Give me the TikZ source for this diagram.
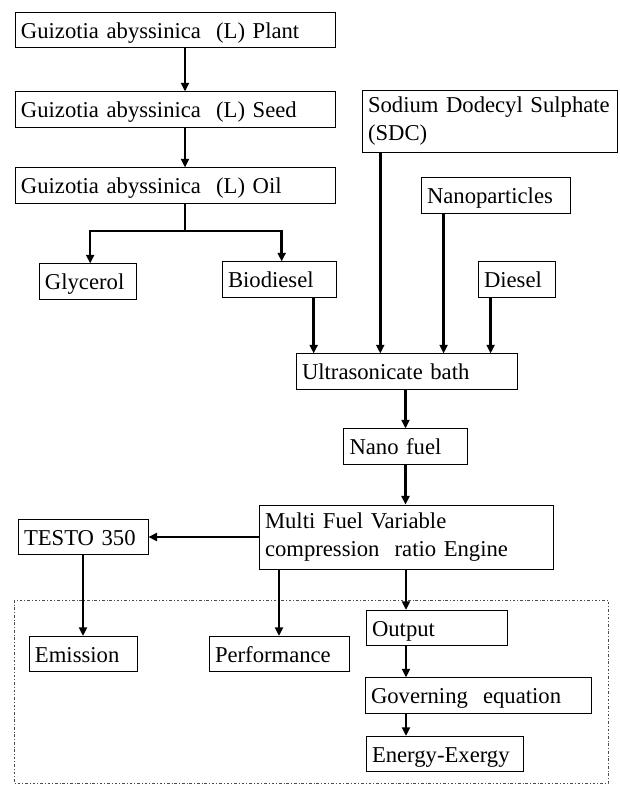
\documentclass[tikz,border=0pt]{standalone}
\usepackage{fontspec}
\setmainfont{Liberation Serif}
\usetikzlibrary{arrows.meta}

\tikzset{every picture/.style={line width=0.75pt}}
\tikzset{
  box/.style={draw, line width=0.6pt, align=left, inner xsep=4.5pt, inner ysep=1pt,
    minimum height=26.5pt, text height=12pt, text depth=0pt, font=\fontsize{17}{20}\selectfont},
  twoline/.style={text height={}, text depth={}, font=\fontsize{17}{21}\selectfont},
  arr/.style={line width=1.9pt, -{Triangle[length=6.5pt,width=6pt]}},
  trunk/.style={line width=1.9pt},
  frame/.style={line width=0.5pt, draw=black!70, dash pattern={on 2pt off 1.5pt on 0.6pt off 1.5pt}}
}

\begin{document}
\begin{tikzpicture}[x=0.75pt,y=0.75pt,yscale=-1,xscale=1]
		\useasboundingbox (0,0) rectangle (619,786);
		
		%Shape: Rectangle [dash dot frame]
		\draw [frame] (14,600) rectangle (608,783);
		
		% Text Node
		\node [box, text width=231pt] (plant) at (175,30) {Guizotia abyssinica \ (L) Plant};
		% Text Node
		\node [box, text width=231pt] (seed) at (175,109.5) {Guizotia abyssinica \ (L) Seed};
		% Text Node
		\node [box, text width=231pt] (oil) at (175,185.5) {Guizotia abyssinica \ (L) Oil};
		% Text Node
		\node [box, text width=63.75pt] (glycerol) at (87.5,281.5) {Glycerol};
		% Text Node
		\node [box, text width=76.5pt] (biodiesel) at (279,279.5) {Biodiesel};
		% Text Node
		\node [box, twoline, text width=182.25pt, minimum height=47pt] (sdc) at (489.5,121.5) {Sodium Dodecyl Sulphate\\(SDC)};
		% Text Node
		\node [box, text width=102.75pt] (nanop) at (495.5,195.5) {Nanoparticles};
		% Text Node
		\node [box, text width=48.75pt] (diesel) at (516.5,279.5) {Diesel};
		% Text Node
		\node [box, text width=156.75pt] (ultra) at (406.5,371.5) {Ultrasonicate bath};
		% Text Node
		\node [box, text width=84pt] (nanofuel) at (405.5,446.5) {Nano fuel};
		% Text Node
		\node [box, twoline, text width=211.5pt, minimum height=48pt] (engine) at (406,537) {Multi Fuel Variable\\compression \ ratio Engine};
		% Text Node
		\node [box, text width=88.5pt] (testo) at (83,537) {TESTO 350};
		% Text Node
		\node [box, text width=72pt] (emission) at (83,654) {Emission};
		% Text Node
		\node [box, text width=96pt] (perf) at (279,654) {Performance};
		% Text Node
		\node [box, text width=96.75pt] (output) at (436.5,628) {Output};
		% Text Node
		\node [box, text width=160.5pt] (governing) at (478,695.5) {Governing \ equation};
		% Text Node
		\node [box, text width=108.75pt] (energy) at (444.5,754) {Energy-Exergy};
		
		%Straight Lines
		\draw [arr] ([xshift=7.5pt]plant.south) -- ([xshift=7.5pt]seed.north);
		\draw [arr] ([xshift=7.5pt]seed.south) -- ([xshift=7.5pt]oil.north);
		%Branch of the oil
		\coordinate (split) at (185,231);
		\draw [trunk] (oil.south -| split) -- (split);
		\draw [arr] (split) -| ([xshift=2pt]glycerol.north);
		\draw [arr] (split) -| ([xshift=2pt]biodiesel.north);
		
		%Inputs of the bath
		\draw [arr] ([xshift=26pt]biodiesel.south) -- ([xshift=26pt]biodiesel.south |- ultra.north);
		\draw [arr] ([xshift=14pt]sdc.south west) -- ([xshift=14pt]sdc.south west |- ultra.north);
		\draw [arr] ([xshift=17.25pt]nanop.south west) -- ([xshift=17.25pt]nanop.south west |- ultra.north);
		\draw [arr] ([xshift=9.75pt]diesel.south west) -- ([xshift=9.75pt]diesel.south west |- ultra.north);
		
		\draw [arr] (ultra.south -| nanofuel) -- (nanofuel.north);
		\draw [arr] (nanofuel.south) -- (nanofuel.south |- engine.north);
		
		%Engine outputs
		\draw [arr] (engine.west) -- (testo.east);
		\draw [arr] (testo.south) -- (emission.north);
		\draw [arr] (engine.south -| perf) -- (perf.north);
		\draw [arr] (engine.south) -- (engine.south |- output.north);
		\draw [arr] (output.south -| engine) -- (governing.north -| engine);
		\draw [arr] (governing.south -| engine) -- (energy.north -| engine);
		
\end{tikzpicture}
\end{document}
